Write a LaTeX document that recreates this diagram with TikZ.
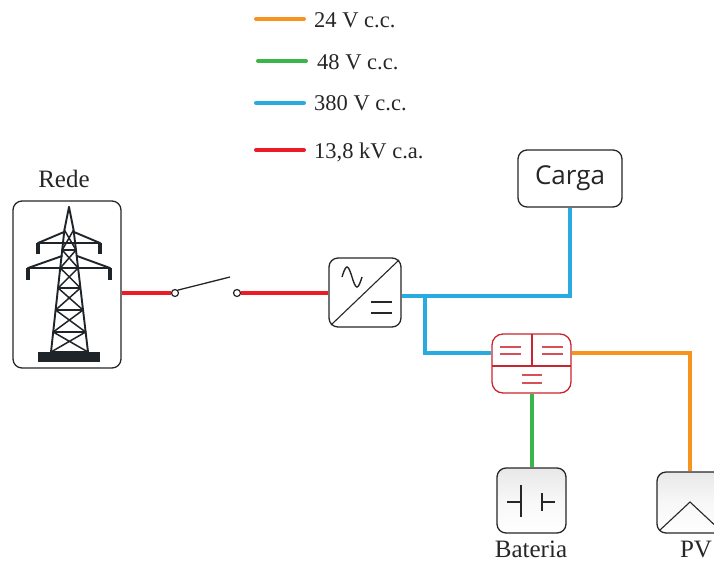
\documentclass[tikz,border=0pt]{standalone}
\usepackage{fontspec}
\setmainfont{Liberation Serif}
\newfontfamily\boxfont{Open Sans}
\usetikzlibrary{calc}

\definecolor{lnorange}{RGB}{247,148,29}
\definecolor{lngreen}{RGB}{57,181,74}
\definecolor{lnblue}{RGB}{41,171,226}
\definecolor{lnred}{RGB}{237,28,36}
\definecolor{dcred}{RGB}{200,38,46}
\definecolor{dcredlt}{RGB}{214,80,86}
\definecolor{towerink}{RGB}{30,36,40}

\tikzset{
  bus/.style={line width=4pt},
  legline/.style={line width=4pt, line cap=round},
  legtext/.style={anchor=west, inner sep=0pt, font=\fontsize{22.5}{26}\selectfont, text=black!85},
  lbl/.style={inner sep=0pt, font=\fontsize{25}{30}\selectfont, text=black!85},
  unit/.style={draw=black!85, line width=1.3pt, rounded corners=9pt, inner sep=0pt, fill=white},
  glossy/.style={unit, top color=black!9, bottom color=white, middle color=black!3},
  symb/.style={line width=1.3pt, draw=black!85},
  terminal/.style={circle, draw=black!85, fill=white, line width=1.2pt, inner sep=0pt, minimum size=7pt},
  tw/.style={line width=1.9pt, draw=towerink, line cap=round, line join=round},
}

\begin{document}
\begin{tikzpicture}[x=1pt, y=-1pt]
\clip (0,0) rectangle (714,563);

% ---- legend ----
\coordinate (lo1) at (256,19);  \coordinate (lo2) at (304,19);
\coordinate (lg1) at (258,61);  \coordinate (lg2) at (306,61);
\coordinate (lb1) at (256,103); \coordinate (lb2) at (304,103);
\coordinate (lr1) at (256,150); \coordinate (lr2) at (304,150);
\draw[legline, lnorange] (lo1) -- (lo2);
\draw[legline, lngreen]  (lg1) -- (lg2);
\draw[legline, lnblue]   (lb1) -- (lb2);
\draw[legline, lnred]    (lr1) -- (lr2);
\node[legtext] (t24)  at (314,20)  {24 V c.c.};
\node[legtext] (t48)  at (317,62)  {48 V c.c.};
\node[legtext] (t380) at (314,103) {380 V c.c.};
\node[legtext] (t138) at (314,152) {13,8 kV c.a.};

% ---- units ----
\node[unit, minimum width=108pt, minimum height=167pt] (rede) at (67,284.5) {};
\node[lbl] (redelbl) at (64,179) {Rede};

\node[unit, minimum width=72pt, minimum height=69pt] (acdc) at (365,292.5) {};
\node[unit, minimum width=104pt, minimum height=57pt, font=\boxfont\fontsize{26}{30}\selectfont, text=black!85] (carga) at (570,178.5) {Carga};
\node[unit, draw=dcred, rounded corners=11pt, minimum width=79pt, minimum height=59pt] (dcdc) at (531.5,363.5) {};
\node[glossy, minimum width=69pt, minimum height=65pt] (bat) at (531.5,500.5) {};
\node[glossy, minimum width=68pt, minimum height=61pt] (pv) at (691,502.5) {};
\node[lbl] (batlbl) at (531,549) {Bateria};
\node[lbl] (pvlbl) at (696,549) {PV};

% ---- transmission tower ----
\begin{scope}
  \fill[towerink] (38,352) rectangle (100,362);
  % legs and top spike
  \draw[tw] (69,207) -- (64.4,230) -- (51,352);
  \draw[tw] (69,207) -- (73.6,230) -- (88,352);
  % lattice bracing
  \foreach \ya/\xla/\xra/\yb/\xlb/\xrb in {
      230/64.4/73.6/250/62.2/76.0,
      250/62.2/76.0/268/60.3/78.1,
      268/60.3/78.1/288/58.1/80.4,
      288/58.1/80.4/310/55.6/83.0,
      310/55.6/83.0/332/53.2/85.6,
      332/53.2/85.6/352/51/88}{
    \draw[tw, line width=1.5pt] (\xla,\ya) -- (\xrb,\yb) (\xra,\ya) -- (\xlb,\yb);
    \draw[tw, line width=1.5pt] (\xlb,\yb) -- (\xrb,\yb);
  }
  % upper cross-arm
  \draw[tw] (38,243) -- (100,243);
  \draw[tw] (38,243) -- (64,232) (100,243) -- (74,232);
  \draw[tw, line width=3.4pt, line cap=butt] (38,243) -- (38,254) (100,243) -- (100,254);
  % lower cross-arm
  \draw[tw] (28,268) -- (110,268);
  \draw[tw] (28,268) -- (62,256) (110,268) -- (77,256);
  \draw[tw, line width=3.4pt, line cap=butt] (28,268) -- (28,280) (110,268) -- (110,280);
\end{scope}

% ---- switch ----
\node[terminal] (sw1) at (175,293) {};
\node[terminal] (sw2) at (237,293) {};
\coordinate (blade) at (230,277);

% ---- AC/DC converter symbol ----
\begin{scope}[shift={(acdc.center)}]
  \draw[symb, line width=1.1pt] (-34,32.5) -- (34,-32.5);
  \draw[symb, line width=1.4pt] (-23,-15.5) sin (-18,-25.5) cos (-13,-15.5) sin (-8,-5.5) cos (-3,-15.5);
  \draw[symb, line width=1.5pt] (6,9.5) -- (27,9.5) (6,20.5) -- (27,20.5);
\end{scope}

% ---- DC/DC converter symbol ----
\begin{scope}[shift={(dcdc.center)}]
  \draw[dcred, line width=1.3pt] (0.5,-29.5) -- (0.5,2.5) (-39.5,2.5) -- (39.5,2.5);
  \draw[dcredlt, line width=1.5pt] (-31.5,-16.5) -- (-10.5,-16.5) (-31.5,-9.5) -- (-10.5,-9.5)
                                  (10.5,-16.5) -- (31.5,-16.5) (10.5,-9.5) -- (31.5,-9.5)
                                  (-9.5,11.5) -- (10.5,11.5) (-9.5,19.5) -- (10.5,19.5);
\end{scope}

% ---- battery symbol ----
\begin{scope}[shift={(bat.center)}]
  \draw[symb, line width=1.2pt] (-10.5,-15.5) -- (-10.5,16.5) (-24.5,1.5) -- (-10.5,1.5)
                                (10.5,-7.5) -- (10.5,10.5) (10.5,1.5) -- (23.5,1.5);
\end{scope}

% ---- PV symbol ----
\begin{scope}[shift={(pv.center)}]
  \draw[symb, line width=1.1pt] (-31,27.5) -- (-1,-0.5) -- (29,27.5);
\end{scope}

% ---- buses ----
\coordinate (j1) at (425,296);
\coordinate (j2) at (570,296);
\coordinate (j3) at (425,353);
\coordinate (j4) at (690,353);

\draw[bus, lnred] (sw1 -| rede.east) -- (sw1.west);
\draw[bus, lnred] (sw2.east) -- (sw2 -| acdc.west);
\draw[line width=1.3pt, black!85] (sw1.north east) -- (blade);

\draw[bus, lnblue] (j1 -| acdc.east) -- (j2) -- (carga.south);
\draw[bus, lnblue] (j1) -- (j3) -- (j3 -| dcdc.west);
\draw[bus, lnorange] (j4 -| dcdc.east) -- (j4) -- (j4 |- pv.north);
\draw[bus, lngreen] (dcdc.south) -- (bat.north);
\end{tikzpicture}
\end{document}
